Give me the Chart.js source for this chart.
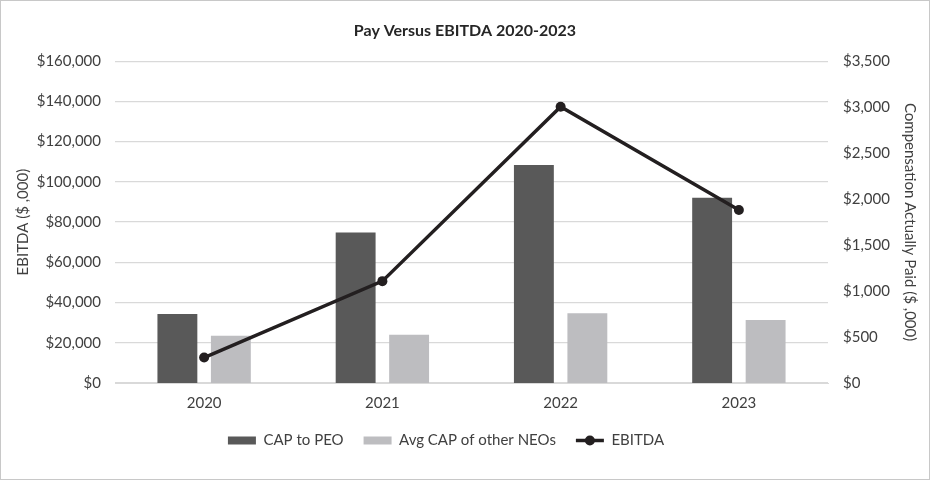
<!DOCTYPE html>
<html>
<head>
<meta charset="utf-8">
<script src="https://cdn.jsdelivr.net/npm/chart.js@4/dist/chart.umd.min.js"></script>
<style>
    html, body { margin: 0; padding: 0; background: #fff; }
    #wrap {
        width: 930px; height: 480px; box-sizing: border-box;
        border: 1px solid #c8c8c8; background: #fff;
    }
</style>
</head>
<body>
<div id="wrap"><canvas id="payChart"></canvas></div>
<script>
// Chart data
const years = ['2020', '2021', '2022', '2023'];
const capPeo = [751, 1637, 2370, 2016];        // $,000 (right axis)
const capOtherNeos = [514, 525, 758, 686];     // $,000 (right axis)
const ebitda = [12650, 50650, 137350, 86000];  // $,000 (left axis)

const fontFamily = 'Lato, "Open Sans", sans-serif';
const textColor = '#404040';

const money = v => '$' + Number(v).toLocaleString('en-US');

// Legend sits a bit left of centre in the original; also draws the dot on the EBITDA legend line
const legendTweaks = {
    id: 'legendTweaks',
    afterLayout(chart) {
        if (chart.legend) chart.legend.right -= 38;
    },
    afterDraw(chart) {
        const legend = chart.legend;
        if (!legend || !legend.legendItems) return;
        const ctx = chart.ctx;
        legend.legendItems.forEach((item, i) => {
            if (item.text !== 'EBITDA') return;
            const hb = legend.legendHitBoxes[i];
            const bw = legend.options.labels.pointStyleWidth;
            ctx.save();
            ctx.fillStyle = '#231f20';
            ctx.beginPath();
            ctx.arc(hb.left + bw / 2, hb.top + hb.height / 2, 5, 0, Math.PI * 2);
            ctx.fill();
            ctx.restore();
        });
    }
};

new Chart(document.getElementById('payChart').getContext('2d'), {
    data: {
        labels: years,
        datasets: [
            {
                type: 'bar',
                label: 'CAP to PEO',
                data: capPeo,
                yAxisID: 'yComp',
                backgroundColor: '#595959',
                categoryPercentage: 0.6,
                barPercentage: 0.746,
                order: 1
            },
            {
                type: 'bar',
                label: 'Avg CAP of other NEOs',
                data: capOtherNeos,
                yAxisID: 'yComp',
                backgroundColor: '#bdbdc0',
                categoryPercentage: 0.6,
                barPercentage: 0.746,
                order: 1
            },
            {
                type: 'line',
                label: 'EBITDA',
                data: ebitda,
                yAxisID: 'yEbitda',
                borderColor: '#231f20',
                backgroundColor: '#231f20',
                borderWidth: 3.5,
                pointRadius: 5,
                pointBackgroundColor: '#231f20',
                pointBorderWidth: 0,
                tension: 0,
                order: 0
            }
        ]
    },
    options: {
        responsive: true,
        maintainAspectRatio: false,
        animation: false,
        layout: { padding: { top: 6, bottom: 21, left: 0, right: 0 } },
        scales: {
            x: {
                afterFit: s => { s.height = 30; },
                grid: { display: false },
                border: { display: true, color: '#d9d9d9', width: 1 },
                ticks: { color: textColor, font: { family: fontFamily, size: 15 }, padding: 3 }
            },
            yEbitda: {
                position: 'left',
                min: 0,
                max: 160000,
                afterFit: s => { s.width = 114; },
                grid: { color: '#d9d9d9', lineWidth: 1.3, drawTicks: false },
                border: { display: false },
                ticks: {
                    stepSize: 20000,
                    color: textColor,
                    font: { family: fontFamily, size: 15 },
                    padding: 14,
                    callback: money
                },
                title: {
                    display: true,
                    text: 'EBITDA ($ ,000)',
                    color: textColor,
                    font: { family: fontFamily, size: 15 },
                    padding: { top: 13, bottom: 0 }
                }
            },
            yComp: {
                position: 'right',
                min: 0,
                max: 3500,
                afterFit: s => { s.width = 101; },
                grid: { display: false, drawTicks: false },
                border: { display: false },
                ticks: {
                    stepSize: 500,
                    color: textColor,
                    font: { family: fontFamily, size: 15 },
                    padding: 15,
                    callback: money
                },
                title: {
                    display: true,
                    text: 'Compensation Actually Paid ($ ,000)',
                    color: textColor,
                    font: { family: fontFamily, size: 15 },
                    padding: { top: 10, bottom: 0 }
                }
            }
        },
        plugins: {
            title: {
                display: true,
                text: 'Pay Versus EBITDA 2020-2023',
                color: '#262626',
                font: { family: fontFamily, size: 16, weight: 'bold' },
                padding: { top: 14, bottom: 21 }
            },
            legend: {
                position: 'bottom',
                labels: {
                    color: textColor,
                    font: { family: fontFamily, size: 15 },
                    usePointStyle: true,
                    pointStyleWidth: 28,
                    boxHeight: 8,
                    padding: 20,
                    sort: (a, b) => a.datasetIndex - b.datasetIndex,
                    generateLabels(chart) {
                        const items = Chart.defaults.plugins.legend.labels.generateLabels(chart);
                        items.forEach(it => {
                            if (it.text === 'EBITDA') {
                                it.pointStyle = 'line';
                                it.lineWidth = 3.5;
                                it.strokeStyle = '#231f20';
                            } else {
                                it.pointStyle = 'rect';
                                it.lineWidth = 0;
                            }
                        });
                        return items;
                    }
                }
            },
            tooltip: { enabled: false }
        }
    },
    plugins: [legendTweaks]
});
</script>
</body>
</html>
